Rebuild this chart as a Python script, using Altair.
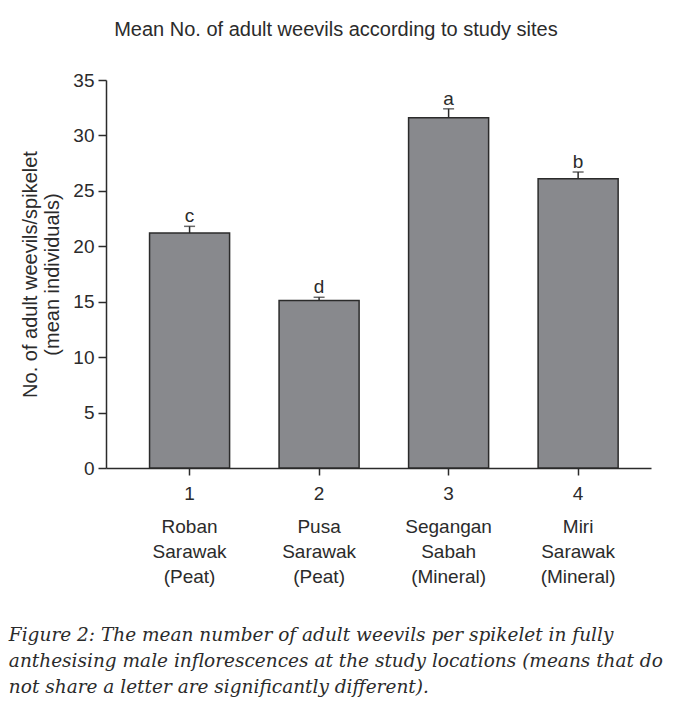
import altair as alt
import pandas as pd

# ---- data ----
site_numbers = ["1", "2", "3", "4"]
site_names = [
    ["Roban", "Sarawak", "(Peat)"],
    ["Pusa", "Sarawak", "(Peat)"],
    ["Segangan", "Sabah", "(Mineral)"],
    ["Miri", "Sarawak", "(Mineral)"],
]
mean_weevils = [21.2, 15.1, 31.6, 26.1]
std_errors = [0.6, 0.3, 0.8, 0.6]
letters = ["c", "d", "a", "b"]
y_ticks = [0, 5, 10, 15, 20, 25, 30, 35]

title_text = "Mean No. of adult weevils according to study sites"
y_title = ["No. of adult weevils/spikelet", "(mean individuals)"]
caption = [
    "Figure 2: The mean number of adult weevils per spikelet in fully",
    "anthesising male inflorescences at the study locations (means that do",
    "not share a letter are significantly different).",
]

df = pd.DataFrame({
    "site": ["|".join([n] + names) for n, names in zip(site_numbers, site_names)],
    "mean": mean_weevils,
    "se": std_errors,
    "letter": letters,
})

FONT = "Liberation Sans"
DARK = "#2b2b2b"

x_scale = alt.Scale(paddingInner=0.382, paddingOuter=0.295, align=0.57)
y_scale = alt.Scale(domain=[0, 35], nice=False)

base = alt.Chart(df).transform_calculate(top="datum.mean + datum.se")

bars = base.mark_bar(color="#88898d", stroke=DARK, strokeWidth=1.5).encode(
    x=alt.X("site:N", sort=None, scale=x_scale,
            axis=alt.Axis(title=None, orient="bottom", labelAngle=0,
                          labelExpr="split(datum.value, '|')[0]",
                          labelFont=FONT, labelFontSize=19, labelColor=DARK,
                          labelPadding=9, tickSize=7, tickColor=DARK,
                          domainColor=DARK, domainWidth=1.5, tickWidth=1.5)),
    y=alt.Y("mean:Q", scale=y_scale,
            axis=alt.Axis(title=y_title, values=y_ticks, grid=False,
                          labelFont=FONT, labelFontSize=19, labelColor=DARK,
                          titleFont=FONT, titleFontSize=20, titleColor=DARK,
                          titleFontWeight="normal", titleLineHeight=22,
                          titlePadding=10, labelPadding=4, tickSize=8,
                          tickColor=DARK, domainColor=DARK, domainWidth=1.5,
                          tickWidth=1.5)),
)

err_rule = base.mark_rule(color=DARK, strokeWidth=1.5).encode(
    x=alt.X("site:N", sort=None, scale=x_scale, axis=None),
    y=alt.Y("mean:Q", scale=y_scale),
    y2="top:Q",
)

err_cap = base.mark_tick(color=DARK, thickness=1.5, size=11).encode(
    x=alt.X("site:N", sort=None, scale=x_scale,
            axis=alt.Axis(title=None, orient="bottom", labelAngle=0,
                          labelExpr="slice(split(datum.value, '|'), 1)",
                          labelFont=FONT, labelFontSize=19, labelColor=DARK,
                          labelLineHeight=25, labelPadding=49, ticks=False,
                          domain=False)),
    y=alt.Y("top:Q", scale=y_scale),
)

labels = base.mark_text(font=FONT, fontSize=19, color=DARK, baseline="bottom",
                        dy=0).encode(
    x=alt.X("site:N", sort=None, scale=x_scale, axis=None),
    y=alt.Y("top:Q", scale=y_scale),
    text="letter:N",
)

main = alt.layer(bars, err_rule, err_cap, labels).resolve_axis(
    x="independent"
).properties(
    width=545, height=388,
    title=alt.TitleParams(title_text, font=FONT, fontSize=20, fontWeight="normal",
                          color=DARK, anchor="middle", frame="bounds", offset=31),
)

chart = alt.vconcat(main).properties(
    title=alt.TitleParams(caption, orient="bottom", anchor="start", font="DejaVu Serif",
                          fontStyle="italic", fontSize=18.5, fontWeight="normal",
                          color=DARK, lineHeight=26, offset=40, dx=-12),
    padding={"left": 8, "top": 20, "right": 5, "bottom": 5},
).configure_view(stroke=None)

chart.save("out.html", embed_options={"renderer": "svg", "actions": False})
